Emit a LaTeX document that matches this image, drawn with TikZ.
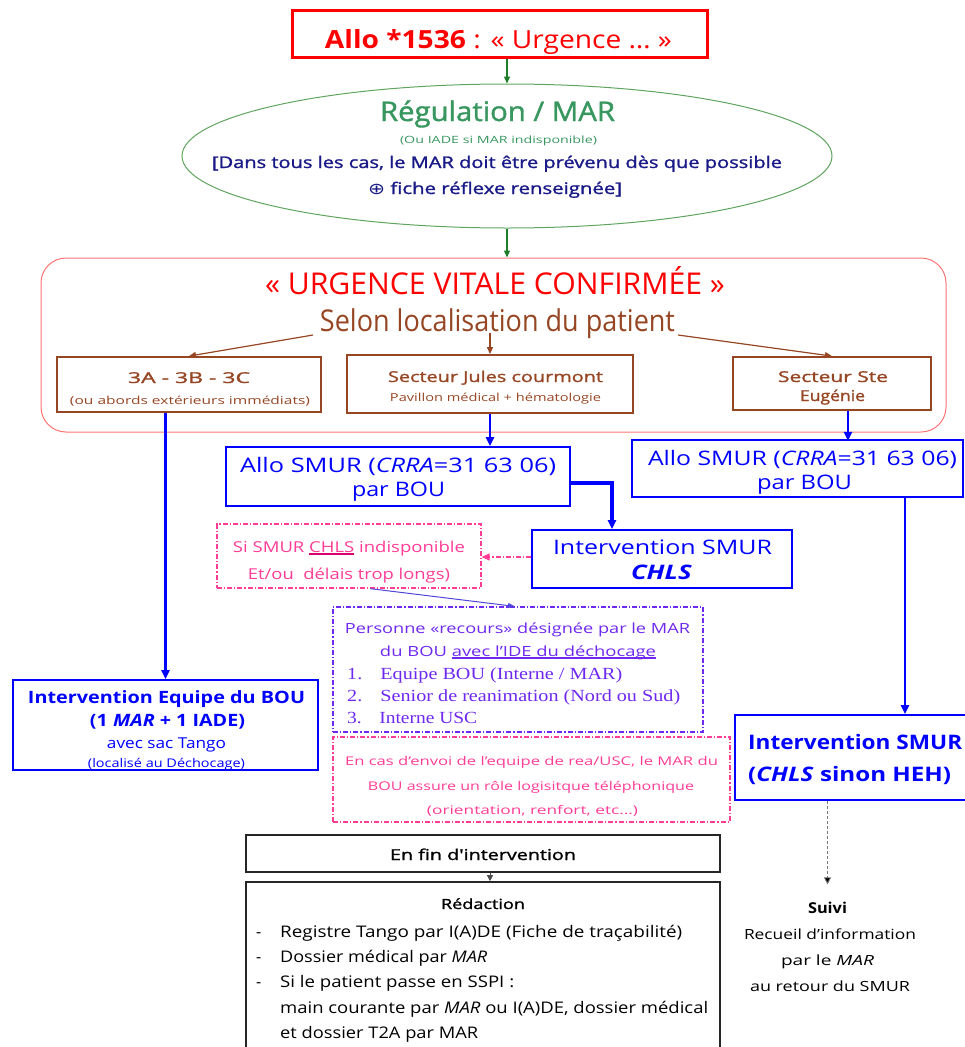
\documentclass[tikz,border=0pt]{standalone}
\usepackage{fontspec}
\usepackage{graphicx}
\setmainfont{Open Sans}
\newfontfamily\seriffam{Liberation Serif}
\newfontfamily\med[FakeBold=1.3]{Open Sans}
\newfontfamily\symfam{DejaVu Sans}
\usetikzlibrary{arrows.meta,shapes.geometric}

\definecolor{cred}{RGB}{255,0,0}
\definecolor{cgreen}{RGB}{56,150,95}
\definecolor{cellipse}{RGB}{95,165,95}
\definecolor{carrowg}{RGB}{30,125,40}
\definecolor{cnavy}{RGB}{25,25,135}
\definecolor{cframe}{RGB}{255,115,115}
\definecolor{cbrown}{RGB}{150,70,35}
\definecolor{cblue}{RGB}{0,0,255}
\definecolor{cpink}{RGB}{255,60,150}
\definecolor{cpinkdark}{RGB}{215,0,110}
\definecolor{cviolet}{RGB}{110,40,240}
\definecolor{cline}{RGB}{80,70,220}
\definecolor{cgray}{RGB}{120,120,120}

% font size and width-fitted text
\newcommand\fs[1]{\fontsize{#1}{#1}\selectfont}
\newcommand\tw[2]{\resizebox{#1pt}{\height}{#2}}
% coloured underline
\newsavebox\ulbox
\newcommand\ulc[3]{\sbox\ulbox{#3}\rlap{\color{#1}\rule[-#2]{\wd\ulbox}{1.6pt}}\usebox\ulbox}

\begin{document}
\begin{tikzpicture}[x=1pt,y=-1pt,
  box/.style={draw, rectangle, inner sep=0pt},
  txt/.style={inner sep=0pt, anchor=base},
  txtl/.style={inner sep=0pt, anchor=base west},
  garrow/.style={draw=carrowg, line width=1.4pt, -{Triangle[length=7pt,width=6pt]}},
  brarrow/.style={draw=cbrown, line width=1.2pt, -{Triangle[length=7pt,width=6pt]}},
  blarrow/.style={draw=cblue, line width=2.6pt, -{Triangle[length=9pt,width=8pt]}},
  dashdot/.style={dash pattern=on 5pt off 2pt on 1.2pt off 2pt},
]
\useasboundingbox (0,0) rectangle (965,1047);
\clip (0,0) rectangle (965,1047);

% ---- call
\node[box, draw=cred, line width=3pt, minimum width=415, minimum height=47] (call) at (499.5,33.5) {};
\node[txt, text=cred] (callT) at (498.5,48) {\fs{25}\tw{347}{\textbf{Allo *1536} : « Urgence … »}};

% ---- regulation ellipse
\node[ellipse, draw=cellipse, line width=1pt, minimum width=650, minimum height=144, inner sep=0pt] (reg) at (507,156) {};
\node[txt, text=cgreen] (regT) at (497.5,121) {\med\fs{27}\tw{235}{Régulation / MAR}};
\node[txt, text=cgreen] (regS) at (498.5,143) {\fs{10}\tw{197}{(Ou IADE si MAR indisponible)}};
\node[txt, text=cnavy] (regA) at (497,168) {\med\fs{16}\tw{570}{[Dans tous les cas, le MAR doit être prévenu dès que possible}};
\node[txt, text=cnavy] (regB) at (495,194) {\med\fs{16}\tw{254}{{\symfam ⊕} fiche réflexe renseignée]}};

\draw[garrow] (call.south -| reg.north) -- (reg.north);

% ---- confirmed emergency frame
\node[box, draw=cframe, line width=1pt, rounded corners=25pt, minimum width=905, minimum height=174] (frame) at (493.5,345) {};
\draw[garrow] (reg.south) -- (reg.south |- frame.north);
\node[txt, text=cred] (urgT) at (495,294) {\fs{30}\tw{460}{« URGENCE VITALE CONFIRMÉE »}};
\node[txt, text=cbrown] (selT) at (497.5,331) {\fs{30}\tw{355}{Selon localisation du patient}};

% ---- sectors
\node[box, draw=cbrown, line width=1.8pt, minimum width=264, minimum height=55] (b1) at (189,384.5) {};
\node[box, draw=cbrown, line width=1.8pt, minimum width=286, minimum height=58] (b2) at (490,384) {};
\node[box, draw=cbrown, line width=1.8pt, minimum width=198, minimum height=53] (b3) at (832,383.5) {};
\node[txt, text=cbrown] (b1a) at (189,383) {\med\fs{15}\tw{122}{3A - 3B - 3C}};
\node[txt, text=cbrown] (b1b) at (190,404) {\fs{11}\tw{240}{(ou abords extérieurs immédiats)}};
\node[txt, text=cbrown] (b2a) at (495.5,382) {\med\fs{15}\tw{215}{Secteur Jules courmont}};
\node[txt, text=cbrown] (b2b) at (495.5,401) {\fs{11}\tw{211}{Pavillon médical + hématologie}};
\node[txt, text=cbrown] (b3a) at (833,382) {\med\fs{15}\tw{110}{Secteur Ste}};
\node[txt, text=cbrown] (b3b) at (832.5,401) {\med\fs{15}\tw{65}{Eugénie}};

\coordinate (s1) at (313,335);
\coordinate (s2) at (490,333);
\coordinate (s3) at (678,335);
\draw[brarrow] (s1) -- (b1.north);
\draw[brarrow] (s2) -- (b2.north);
\draw[brarrow] (s3) -- (b3.north);

% ---- SMUR calls
\node[box, draw=cblue, line width=1.6pt, minimum width=344, minimum height=59] (a1) at (398,476.5) {};
\node[box, draw=cblue, line width=1.6pt, minimum width=331, minimum height=57] (a2) at (797.5,468.5) {};
\node[txt, text=cblue] (a1a) at (398,472) {\fs{20}\tw{316}{Allo SMUR (\textit{CRRA}=31 63 06)}};
\node[txt, text=cblue] (a1b) at (398.5,496) {\fs{20}\tw{93}{par BOU}};
\node[txt, text=cblue] (a2a) at (802.5,465) {\fs{20}\tw{309}{Allo SMUR (\textit{CRRA}=31 63 06)}};
\node[txt, text=cblue] (a2b) at (804.5,489) {\fs{20}\tw{95}{par BOU}};

\draw[blarrow] (b2.south) -- (b2.south |- a1.north);
\draw[blarrow] ([xshift=16pt]b3.south) -- ++(0,30);

% ---- SMUR CHLS
\node[box, draw=cblue, line width=1.6pt, minimum width=260, minimum height=58] (chls) at (662,559) {};
\node[txt, text=cblue] (chlsA) at (662.5,554) {\fs{20}\tw{219}{Intervention SMUR}};
\node[txt, text=cblue] (chlsB) at (661.5,579) {\fs{20}\tw{61}{\textbf{\textit{CHLS}}}};
\draw[blarrow, line width=3.4pt] ([yshift=-6.5pt]a1.east) -| ([xshift=-50pt]chls.north);

% ---- fallback note
\node[box, draw=cpink, line width=1.2pt, dashdot, minimum width=264, minimum height=64] (pk1) at (349,556) {};
\node[txt, text=cpink] (pk1a) at (349,552) {\fs{15}\tw{232}{Si SMUR \ulc{cpinkdark}{3pt}{CHLS} indisponible}};
\node[txt, text=cpink] (pk1b) at (349,579) {\fs{15}\tw{202}{Et/ou\ \ délais trop longs)}};
\draw[draw=cpink, line width=1.2pt, dashdot, -{Triangle[length=8pt,width=7pt]}] ([yshift=2pt]chls.west) -- ([yshift=2pt]chls.west -| pk1.east);

% ---- designated person
\node[box, draw=cviolet, line width=1.2pt, dashdot, minimum width=370, minimum height=125] (pur) at (518,669.5) {};
\draw[draw=cline, line width=1pt, -{Triangle[length=7pt,width=5pt]}] ([xshift=21pt]pk1.south) -- ([xshift=-3pt]pur.north);
\node[txt, text=cviolet] (purA) at (517.5,633) {\fs{14}\tw{345}{Personne «recours» désignée par le MAR}};
\node[txt, text=cviolet] (purB) at (518,656) {\fs{14}\tw{276}{du BOU \ulc{cviolet}{3pt}{avec l'IDE du déchocage}}};
\node[txtl, text=cviolet] (purC) at (347,679) {\seriffam\fs{17}\tw{275}{\makebox[28pt][l]{1.}Equipe BOU (Interne / MAR)}};
\node[txtl, text=cviolet] (purD) at (347,701) {\seriffam\fs{17}\tw{333}{\makebox[28pt][l]{2.}Senior de reanimation (Nord ou Sud)}};
\node[txtl, text=cviolet] (purE) at (347,723) {\seriffam\fs{17}\tw{130}{\makebox[28pt][l]{3.}Interne USC}};

% ---- logistic note
\node[box, draw=cpink, line width=1.2pt, dashdot, minimum width=397, minimum height=85] (pk2) at (531.5,779.5) {};
\node[txt, text=cpink] (pk2a) at (531.5,765) {\fs{12}\tw{373}{En cas d'envoi de l'equipe de rea/USC, le MAR du}};
\node[txt, text=cpink] (pk2b) at (531,790) {\fs{12}\tw{326}{BOU assure un rôle logisitque téléphonique}};
\node[txt, text=cpink] (pk2c) at (532.5,814) {\fs{12}\tw{211}{(orientation, renfort, etc…)}};

% ---- BOU team
\node[box, draw=cblue, line width=1.6pt, minimum width=305, minimum height=90] (lint) at (165.5,725) {};
\node[txt, text=cblue] (linA) at (166.5,703) {\fs{17}\tw{277}{\textbf{Intervention Equipe du BOU}}};
\node[txt, text=cblue] (linB) at (167.5,726) {\fs{17}\tw{155}{\textbf{(1 \textit{MAR} + 1 IADE)}}};
\node[txt, text=cblue] (linC) at (166.5,748) {\fs{15}\tw{119}{avec sac Tango}};
\node[txt, text=cblue] (linD) at (166.5,767) {\fs{12}\tw{157}{(localisé au Déchocage)}};
\draw[blarrow] (b1.south -| lint.north) -- (lint.north);

% ---- SMUR intervention (right)
\node[box, draw=cblue, line width=1.8pt, minimum width=250, minimum height=85] (rint) at (860,757.5) {};
\node[txtl, text=cblue] (rinA) at (748,749) {\fs{20}\tw{214}{\textbf{Intervention SMUR}}};
\node[txtl, text=cblue] (rinB) at (748,781) {\fs{20}\tw{203}{\textbf{(\textit{CHLS} sinon HEH)}}};
\draw[blarrow] ([xshift=107.5pt]a2.south) -- ([xshift=45pt]rint.north);

% ---- end of intervention
\node[box, draw=black!85, line width=1.6pt, minimum width=474, minimum height=37] (fin1) at (483,853.5) {};
\node[txt] (fin1T) at (483,860) {\med\fs{15}\tw{186}{En fin d'intervention}};
\node[box, draw=black!85, line width=1.6pt, minimum width=474, minimum height=180] (fin2) at (483,972) {};
\draw[draw=black!70, line width=0.8pt, -{Triangle[length=6pt,width=6pt]}] ([xshift=7pt]fin1.south) -- ([xshift=7pt]fin2.north);
\node[txt] (redT) at (483,909) {\med\fs{14}\tw{84}{Rédaction}};
\node[txtl] (d1) at (256,937) {\fs{16}-};
\node[txtl] (d2) at (256,962) {\fs{16}-};
\node[txtl] (d3) at (256,987) {\fs{16}-};
\node[txtl] (r1) at (280,937) {\fs{16}\tw{402}{Registre Tango par I(A)DE (Fiche de traçabilité)}};
\node[txtl] (r2) at (280,962) {\fs{16}\tw{207}{Dossier médical par \textit{MAR}}};
\node[txtl] (r3) at (280,987) {\fs{16}\tw{234}{Si le patient passe en SSPI :}};
\node[txtl] (r4) at (280,1013) {\fs{16}\tw{428}{main courante par \textit{MAR} ou I(A)DE, dossier médical}};
\node[txtl] (r5) at (280,1038) {\fs{16}\tw{198}{et dossier T2A par MAR}};

% ---- follow-up
\node[txt] (suivi) at (827.5,913) {\fs{15}\tw{39}{\textbf{Suivi}}};
\node[txt] (suA) at (830,939) {\fs{14}\tw{172}{Recueil d'information}};
\node[txt] (suB) at (827.5,965) {\fs{14}\tw{93}{par le \textit{MAR}}};
\node[txt] (suC) at (830,991) {\fs{14}\tw{160}{au retour du SMUR}};
\draw[draw=cgray, line width=0.8pt, dash pattern=on 3pt off 2pt, -{Triangle[length=7pt,width=7pt,fill=black]}] (rint.south -| suivi.north) -- ([yshift=17pt]suivi.north);
\end{tikzpicture}
\end{document}
